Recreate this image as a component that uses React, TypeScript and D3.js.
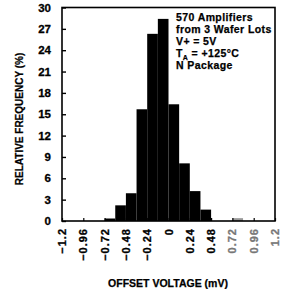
import { FC, useEffect, useRef } from 'react';
import * as d3 from 'd3';

// histogram bins (left edge, mV) and relative frequency (%)
const binStarts = [-0.72, -0.6, -0.48, -0.36, -0.24, -0.12, 0, 0.12, 0.24, 0.36, 0.72];
const frequency = [0.35, 2.2, 3.9, 15.7, 26.3, 28.4, 16.4, 8.1, 4.2, 1.6, 0.4];
const binWidth = 0.12;

const xTicks = [-1.2, -0.96, -0.72, -0.48, -0.24, 0, 0.24, 0.48, 0.72, 0.96, 1.2];
const yTicks = [0, 3, 6, 9, 12, 15, 18, 21, 24, 27, 30];

const noteLines = ['570 Amplifiers', 'from 3 Wafer Lots', 'V+ = 5V', 'T_A = +125°C', 'N Package'];

const FONT = "'Liberation Sans', Arial, sans-serif";

const OffsetHistogram: FC = () => {
  const chartRef = useRef<HTMLDivElement>(null);

  useEffect(() => {
    const W = 282;
    const H = 289;
    const left = 62;
    const right = 275;
    const top = 7.5;
    const bottom = 221;

    const root = d3.select(chartRef.current);
    root.selectAll('*').remove();

    const svg = root
      .append('svg')
      .attr('width', W)
      .attr('height', H)
      .style('display', 'block')
      .style('background', '#fff');

    const x = d3.scaleLinear().domain([-1.2, 1.2]).range([left, right]);
    const y = d3.scaleLinear().domain([0, 30]).range([bottom, top]);

    const bins = binStarts.map((b, i) => ({ x0: b, x1: b + binWidth, v: frequency[i] }));

    // Bars
    svg
      .append('g')
      .selectAll('rect')
      .data(bins)
      .enter()
      .append('rect')
      .attr('x', (d) => x(d.x0))
      .attr('y', (d) => y(d.v))
      .attr('width', (d) => x(d.x1) - x(d.x0))
      .attr('height', (d) => y(0) - y(d.v))
      .attr('fill', (d) => (d.x0 > 0.6 ? '#999' : '#000'));

    // Frame
    svg
      .append('rect')
      .attr('x', left)
      .attr('y', top)
      .attr('width', right - left)
      .attr('height', bottom - top)
      .attr('fill', 'none')
      .attr('stroke', '#000')
      .attr('stroke-width', 1.6);

    // Y axis (ticks point inward)
    const yAxis = svg
      .append('g')
      .attr('transform', `translate(${left},0)`)
      .call(d3.axisRight(y).tickValues(yTicks).tickSize(4).tickFormat(() => ''));
    yAxis.select('.domain').remove();
    yAxis.selectAll('line').attr('stroke', '#000').attr('stroke-width', 1.4);

    svg
      .append('g')
      .selectAll('text')
      .data(yTicks)
      .enter()
      .append('text')
      .attr('x', 51)
      .attr('y', (d) => y(d) + 4)
      .attr('text-anchor', 'end')
      .attr('font-family', FONT)
      .attr('font-weight', 'bold')
      .attr('font-size', 11.5)
      .attr('stroke', '#000')
      .attr('stroke-width', 0.3)
      .text((d) => String(d));

    // X axis
    const xAxis = svg
      .append('g')
      .attr('transform', `translate(0,${bottom})`)
      .call(d3.axisTop(x).tickValues(xTicks).tickSize(3).tickFormat(() => ''));
    xAxis.select('.domain').remove();
    xAxis.selectAll('line').attr('stroke', '#000').attr('stroke-width', 1.2);

    svg
      .append('g')
      .selectAll('text')
      .data(xTicks)
      .enter()
      .append('text')
      .attr('transform', (d) => `translate(${x(d) + 4},228) rotate(-90)`)
      .attr('text-anchor', 'end')
      .attr('font-family', FONT)
      .attr('font-weight', 'bold')
      .attr('font-size', 11)
      .attr('letter-spacing', 1)
      .attr('fill', (d) => (d > 0.6 ? '#777' : '#000'))
      .attr('stroke', (d) => (d > 0.6 ? '#777' : '#000'))
      .attr('stroke-width', 0.3)
      .text((d) => (d === 0 ? '0' : d < 0 ? '\u2212' + String(-d) : String(d)));

    // Axis titles
    svg
      .append('text')
      .attr('x', 168)
      .attr('y', 287)
      .attr('text-anchor', 'middle')
      .attr('font-family', FONT)
      .attr('font-weight', 'bold')
      .attr('font-size', 10.5)
      .attr('stroke', '#000')
      .attr('stroke-width', 0.25)
      .text('OFFSET VOLTAGE (mV)');

    svg
      .append('text')
      .attr('transform', 'translate(23,119) rotate(-90)')
      .attr('text-anchor', 'middle')
      .attr('font-family', FONT)
      .attr('font-weight', 'bold')
      .attr('font-size', 10)
      .attr('stroke', '#000')
      .attr('stroke-width', 0.25)
      .text('RELATIVE FREQUENCY (%)');

    // Annotation
    const note = svg
      .append('g')
      .attr('font-family', FONT)
      .attr('font-weight', 'bold')
      .attr('font-size', 10.5)
      .attr('letter-spacing', 0.4)
      .attr('stroke', '#000')
      .attr('stroke-width', 0.25);
    noteLines.forEach((line, i) => {
      const t = note.append('text').attr('x', 176).attr('y', 21 + i * 12);
      if (line.includes('_')) {
        const [a, rest] = line.split('_');
        t.append('tspan').text(a);
        t.append('tspan').attr('font-size', 7).attr('dy', 2.5).text(rest[0]);
        t.append('tspan').attr('dy', -2.5).text(' ' + rest.slice(1).trim());
      } else {
        t.text(line);
      }
    });
  }, []);

  return <div ref={chartRef}></div>;
};

export default function App() {
  useEffect(() => {
    document.body.style.margin = '0';
  }, []);
  return <OffsetHistogram />;
}
